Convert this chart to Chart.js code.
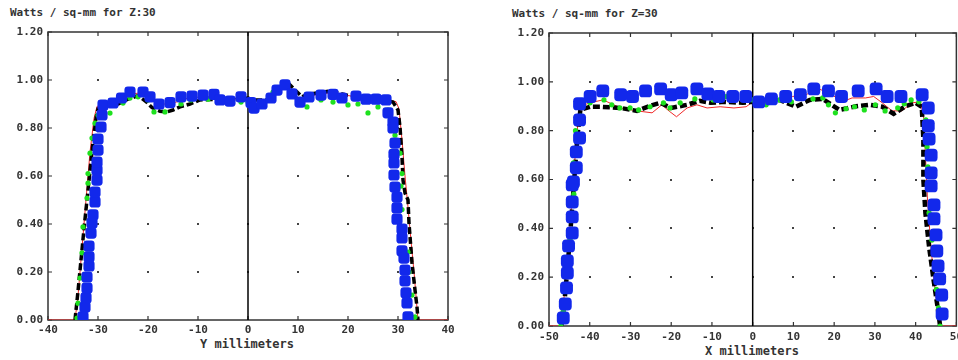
<!DOCTYPE html>
<html lang="en">
<head>
    <meta charset="UTF-8">
    <title>Watts / sq-mm for Z=30</title>
    <script src="https://cdn.jsdelivr.net/npm/chart.js"></script>
    <style>
        body {
            margin: 0;
            width: 958px;
            height: 360px;
            overflow: hidden;
            background: #fff;
            position: relative;
            font-family: "DejaVu Sans Mono", monospace;
        }
        canvas {
            position: absolute;
            top: 0;
        }
        .lbl {
            position: absolute;
            font-size: 11px;
            font-weight: bold;
            color: #333;
            white-space: nowrap;
        }
    </style>
</head>
<body>

    <div class="lbl" style="left:10px; top:6px;">Watts / sq-mm for Z:30</div>
    <div class="lbl" style="left:512px; top:7px;">Watts / sq-mm for Z=30</div>
    <div class="lbl" style="left:200px; top:337px; font-size:12px;">Y millimeters</div>
    <div class="lbl" style="left:705px; top:344px; font-size:12px;">X millimeters</div>

    <canvas id="leftChart" width="470" height="360" style="left:0px;"></canvas>
    <canvas id="rightChart" width="488" height="360" style="left:480px;"></canvas>

    <script>
        // Y scan (left plot), [mm, W/mm2]
        const yRed = [[-40,0],[-34.6,0],[-34,0.1],[-33.4,0.25],[-32.8,0.4],[-32.2,0.55],[-31.6,0.7],[-30.8,0.84],[-30.2,0.89],[-28,0.9],[-26,0.91],[-24,0.94],[-22,0.945],[-20,0.925],[-18,0.9],[-16,0.9],[-14,0.91],[-12,0.925],[-9,0.93],[-6,0.93],[-4,0.915],[-2,0.925],[0,0.915],[1,0.895],[3,0.9],[5,0.93],[7,0.975],[8,0.985],[9,0.95],[10.5,0.915],[12,0.93],[14,0.94],[16,0.945],[18,0.935],[20,0.935],[22,0.93],[24,0.925],[26,0.92],[28,0.915],[29.6,0.91],[30.2,0.88],[30.8,0.75],[31.4,0.6],[32,0.47],[32.6,0.33],[33.2,0.2],[33.6,0.1],[34,0],[40,0]];
        const yBlack = [[-34.6,0],[-34,0.12],[-33.4,0.25],[-32.8,0.38],[-32.2,0.5],[-31.6,0.62],[-31,0.74],[-30.4,0.84],[-30,0.88],[-28.6,0.89],[-26,0.9],[-24,0.92],[-22,0.935],[-20.4,0.91],[-19.2,0.885],[-17.6,0.87],[-16.2,0.867],[-15,0.875],[-13.6,0.888],[-11.6,0.9],[-9.6,0.917],[-6.2,0.92],[-3,0.917],[0,0.925],[1,0.917],[3.8,0.917],[5.6,0.95],[7.8,0.992],[9,0.967],[10.8,0.93],[12,0.94],[13.8,0.946],[16.4,0.954],[19.8,0.937],[22.4,0.93],[26,0.92],[29,0.908],[30,0.875],[30.4,0.804],[30.8,0.68],[31,0.583],[31.4,0.529],[32,0.5],[32.2,0.404],[32.8,0.238],[33.4,0.125],[33.8,0.054],[34,0]];
        const yGreen = [[-34.2,0.008],[-34,0.07],[-33.6,0.175],[-33.2,0.28],[-33,0.388],[-32.2,0.508],[-32,0.57],[-32,0.61],[-31.6,0.695],[-31.2,0.758],[-30.6,0.82],[-30,0.854],[-27.6,0.862],[-25,0.904],[-23.6,0.925],[-22,0.93],[-20,0.917],[-18.8,0.867],[-16.6,0.867],[-13.4,0.9],[-11.4,0.917],[-8,0.92],[-4.6,0.917],[-1.4,0.908],[0,0.908],[3,0.9],[5,0.95],[7,0.97],[9.2,0.94],[11.8,0.888],[14.6,0.917],[17,0.908],[20,0.896],[22,0.9],[24,0.863],[26,0.888],[28,0.875],[28.6,0.8],[29.4,0.77],[30.4,0.695],[30.8,0.61],[30.6,0.558],[30.8,0.46],[31,0.362],[32,0.283],[32.2,0.2],[32.8,0.104],[33.4,0.013]];
        const yBlue = [[-33,0.013],[-32.6,0.054],[-32.4,0.092],[-32.2,0.133],[-32.2,0.179],[-31.8,0.225],[-31.8,0.263],[-31.8,0.308],[-31.4,0.362],[-31.2,0.404],[-31,0.438],[-30.6,0.492],[-30.6,0.533],[-30.2,0.583],[-30.2,0.625],[-30.2,0.658],[-30,0.708],[-30,0.754],[-29.4,0.804],[-29.2,0.854],[-29,0.896],[-27,0.904],[-25.3,0.925],[-23.6,0.95],[-21,0.95],[-19.6,0.93],[-17.8,0.9],[-15.6,0.906],[-13.4,0.93],[-11.2,0.933],[-9,0.937],[-6.8,0.94],[-5.6,0.917],[-3.6,0.912],[-1.4,0.93],[0.6,0.906],[1.2,0.883],[2.8,0.9],[4.6,0.925],[5.8,0.958],[7.4,0.98],[8.8,0.942],[10.4,0.908],[12.2,0.929],[14.6,0.937],[17,0.94],[18.8,0.925],[21.6,0.933],[23.6,0.92],[25.6,0.92],[27.6,0.917],[28,0.863],[29,0.825],[29,0.8],[29.4,0.737],[29.2,0.69],[29.2,0.654],[29.2,0.604],[29.4,0.554],[29.8,0.512],[29.8,0.467],[29.8,0.42],[30.8,0.379],[30.8,0.342],[30.8,0.288],[31.2,0.258],[31.4,0.208],[31.4,0.163],[31.6,0.113],[31.8,0.071],[32,0.013]];

        // X scan (right plot), [mm, W/mm2]
        const xRed = [[-50,0],[-47,0],[-46.4,0.1],[-45.6,0.25],[-44.8,0.42],[-44,0.6],[-43.3,0.76],[-42.6,0.88],[-41.5,0.905],[-39.9,0.914],[-36.8,0.926],[-34.6,0.91],[-32.5,0.893],[-28.4,0.881],[-24.7,0.873],[-22.3,0.906],[-20.5,0.88],[-18.7,0.857],[-16.1,0.893],[-13.7,0.906],[-11.2,0.893],[-8,0.898],[-4.6,0.893],[-1.6,0.898],[0,0.918],[3.3,0.914],[6.6,0.93],[9.8,0.94],[13,0.947],[16.3,0.971],[19.5,0.947],[21.9,0.918],[24.4,0.934],[27.7,0.934],[29.7,0.94],[31.8,0.914],[34.2,0.881],[36.6,0.881],[39.1,0.914],[41.2,0.918],[42,0.85],[42.4,0.7],[42.9,0.52],[43.6,0.36],[44.4,0.2],[45.3,0.08],[46,0],[50,0]];
        const xBlack = [[-47,0],[-46.2,0.1],[-45.4,0.25],[-44.6,0.42],[-43.8,0.6],[-43,0.78],[-42.3,0.885],[-39.9,0.898],[-37.4,0.898],[-32.5,0.893],[-28.4,0.881],[-25.5,0.9],[-22.7,0.914],[-20,0.893],[-16.1,0.906],[-13,0.922],[-10.3,0.914],[-7,0.918],[-2.4,0.914],[0,0.918],[2.3,0.906],[6.6,0.926],[10.6,0.898],[14,0.926],[17.2,0.93],[21.3,0.885],[25.4,0.9],[28.6,0.906],[31.8,0.898],[34.6,0.869],[37.5,0.9],[40,0.914],[41.5,0.898],[41.9,0.762],[41.9,0.598],[42.4,0.463],[43.3,0.324],[44.4,0.189],[45.6,0.053],[46,0]];
        const xGreen = [[-47.1,0],[-46.5,0.06],[-45.7,0.148],[-45.2,0.27],[-44.8,0.352],[-44.3,0.447],[-43.9,0.54],[-44,0.668],[-43.5,0.8],[-42.3,0.86],[-39.9,0.914],[-36.5,0.926],[-34.6,0.906],[-32.6,0.893],[-30.1,0.893],[-28,0.885],[-25.2,0.898],[-21.9,0.914],[-20.3,0.893],[-17.8,0.914],[-14.2,0.93],[-9.7,0.926],[-6.5,0.94],[-1.6,0.926],[0,0.926],[3.3,0.906],[6.6,0.926],[9.5,0.918],[14.8,0.93],[17.2,0.934],[18.6,0.906],[20.3,0.873],[22.9,0.89],[25,0.898],[27.4,0.885],[30.1,0.906],[32.5,0.881],[35.6,0.893],[37.2,0.91],[38.9,0.926],[40.8,0.918],[42.5,0.844],[42.8,0.734],[43,0.652],[43.1,0.586],[43.3,0.463],[44,0.352],[44.9,0.246],[45.1,0.15],[45.6,0.074],[46,0]];
        const xBlue = [[-46.5,0.033],[-46,0.09],[-45.7,0.156],[-45.5,0.217],[-45.5,0.266],[-45.2,0.328],[-44.3,0.381],[-44.3,0.447],[-44.3,0.508],[-44.3,0.578],[-44,0.59],[-43.3,0.648],[-43.3,0.713],[-42.5,0.77],[-42.5,0.844],[-42.5,0.91],[-39.9,0.94],[-36.8,0.963],[-32.4,0.947],[-29.5,0.94],[-26.3,0.963],[-22.6,0.971],[-20,0.947],[-17.4,0.955],[-13.7,0.971],[-11,0.95],[-8.3,0.94],[-4.9,0.94],[-1.7,0.94],[1.5,0.918],[4.6,0.93],[8.1,0.94],[11.7,0.947],[15,0.971],[18.6,0.963],[21.8,0.94],[25.9,0.963],[30.3,0.971],[33,0.94],[36.4,0.94],[41.6,0.947],[43.1,0.893],[43.1,0.82],[43.3,0.766],[43.8,0.7],[43.8,0.627],[43.8,0.574],[44.5,0.496],[44.5,0.439],[45,0.373],[45.2,0.307],[45.5,0.246],[45.9,0.193],[46.4,0.127],[46.5,0.049]];

        const yTicks = [0, 0.2, 0.4, 0.6, 0.8, 1.0, 1.2];

        const tickFont = { family: 'DejaVu Sans Mono', size: 11, weight: 'bold' };

        // dotted grid, inward ticks, box and x=0 line like the old plotting program
        const framePlugin = {
            id: 'frame',
            beforeDatasetsDraw(chart) {
                const ctx = chart.ctx, a = chart.chartArea;
                const xs = chart.scales.x, ys = chart.scales.y;
                const xt = xs.ticks.map(t => xs.getPixelForValue(t.value));
                const yt = ys.ticks.map(t => ys.getPixelForValue(t.value));
                ctx.save();
                ctx.fillStyle = '#444';
                xt.forEach(px => {
                    yt.forEach(py => {
                        if (px > a.left + 2 && px < a.right - 2 && py > a.top + 2 && py < a.bottom - 2) {
                            ctx.fillRect(Math.round(px) - 1, Math.round(py) - 1, 2, 2);
                        }
                    });
                });
                ctx.strokeStyle = '#333';
                ctx.lineWidth = 1.2;
                ctx.beginPath();
                xt.forEach(px => {
                    ctx.moveTo(px, a.bottom); ctx.lineTo(px, a.bottom - 4);
                    ctx.moveTo(px, a.top); ctx.lineTo(px, a.top + 4);
                });
                yt.forEach(py => {
                    ctx.moveTo(a.left, py); ctx.lineTo(a.left + 4, py);
                    ctx.moveTo(a.right, py); ctx.lineTo(a.right - 4, py);
                });
                ctx.stroke();
                ctx.lineWidth = 1.5;
                ctx.strokeRect(a.left, a.top, a.right - a.left, a.bottom - a.top);
                const zx = xs.getPixelForValue(0);
                ctx.strokeStyle = '#000';
                ctx.beginPath();
                ctx.moveTo(zx, a.top);
                ctx.lineTo(zx, a.bottom);
                ctx.stroke();
                ctx.restore();
            }
        };

        function toXY(list) {
            return list.map(p => ({ x: p[0], y: p[1] }));
        }

        function makeChart(id, red, black, green, blue, xMin, xMax, yWidth, pad, xPad, sq, dash) {
            const ctx = document.getElementById(id).getContext('2d');
            return new Chart(ctx, {
                type: 'scatter',
                data: {
                    datasets: [{
                        label: 'blue',
                        data: toXY(blue),
                        pointStyle: 'rectRounded',
                        pointRadius: sq,
                        backgroundColor: 'rgb(18,40,235)',
                        borderColor: 'rgb(18,40,235)',
                        borderWidth: 0,
                        order: 0
                    }, {
                        label: 'green',
                        data: toXY(green),
                        pointRadius: 2.6,
                        backgroundColor: 'rgb(30,225,30)',
                        borderWidth: 0,
                        order: 1
                    }, {
                        label: 'black',
                        data: toXY(black),
                        showLine: true,
                        pointRadius: 0,
                        borderColor: '#000',
                        borderWidth: dash,
                        borderDash: [7, 3],
                        order: 2
                    }, {
                        label: 'red',
                        data: toXY(red),
                        showLine: true,
                        pointRadius: 0,
                        borderColor: 'rgb(240,40,40)',
                        borderWidth: 1,
                        order: 3
                    }]
                },
                options: {
                    responsive: false,
                    animation: false,
                    layout: { padding: pad },
                    plugins: {
                        legend: { display: false },
                        tooltip: { enabled: false }
                    },
                    scales: {
                        x: {
                            type: 'linear',
                            min: xMin,
                            max: xMax,
                            grid: { display: false, drawTicks: false },
                            border: { display: false },
                            ticks: {
                                stepSize: 10,
                                autoSkip: false,
                                maxRotation: 0,
                                padding: xPad,
                                color: '#333',
                                font: tickFont
                            },
                            afterFit: s => { s.height = 26; }
                        },
                        y: {
                            min: 0,
                            max: 1.2,
                            afterBuildTicks: s => { s.ticks = yTicks.map(v => ({ value: v })); },
                            grid: { display: false, drawTicks: false },
                            border: { display: false },
                            ticks: {
                                padding: 5,
                                color: '#333',
                                font: tickFont,
                                callback: v => v.toFixed(2)
                            },
                            afterFit: s => { s.width = yWidth; }
                        }
                    }
                },
                plugins: [framePlugin]
            });
        }

        makeChart('leftChart', yRed, yBlack, yGreen, yBlue, -40, 40, 48,
            { top: 32, right: 22, bottom: 14, left: 0 }, 4, 6.5, 3.5);
        makeChart('rightChart', xRed, xBlack, xGreen, xBlue, -50, 50, 69,
            { top: 33, right: 10, bottom: 8, left: 0 }, 5, 7.5, 4.5);
    </script>

</body>
</html>
